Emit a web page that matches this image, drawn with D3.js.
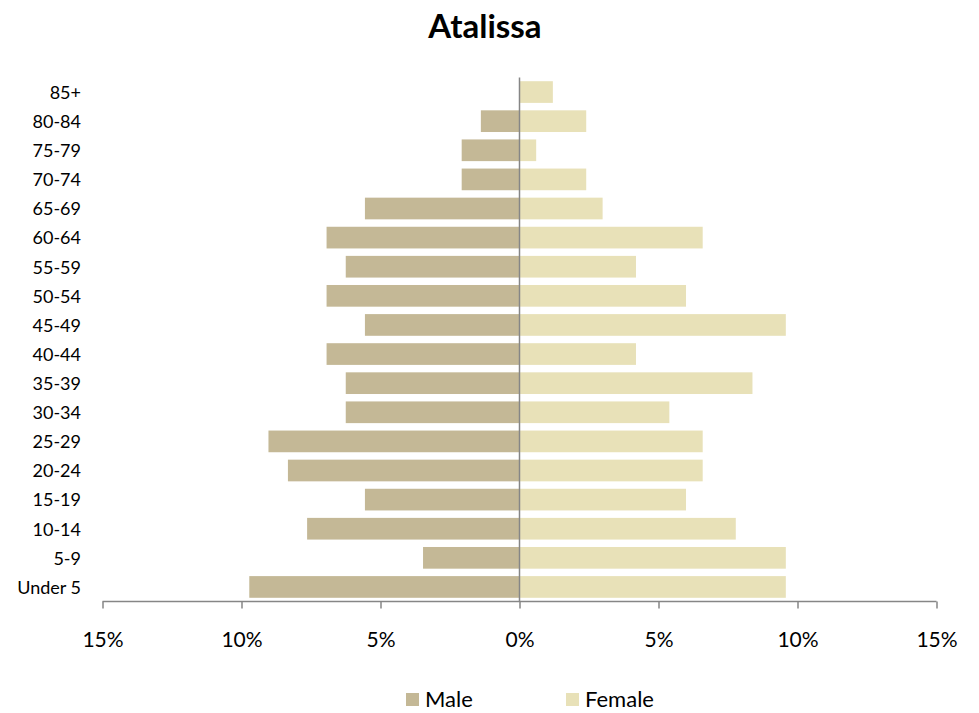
<!DOCTYPE html>
<html>
<head>
<meta charset="utf-8">
<script src="https://cdn.jsdelivr.net/npm/d3@7"></script>
<style>
  html, body { margin: 0; padding: 0; background: #fff; }
  svg { display: block; font-family: Lato, "Open Sans", sans-serif; }
</style>
</head>
<body>
<svg id="chart" width="979" height="713"></svg>
<script>
const categories = ["85+","80-84","75-79","70-74","65-69","60-64","55-59","50-54","45-49","40-44","35-39","30-34","25-29","20-24","15-19","10-14","5-9","Under 5"];
const male   = [0, 1.39, 2.08, 2.08, 5.56, 6.94, 6.25, 6.94, 5.56, 6.94, 6.25, 6.25, 9.03, 8.33, 5.56, 7.64, 3.47, 9.72];
const female = [1.20, 2.40, 0.60, 2.40, 2.99, 6.59, 4.19, 5.99, 9.58, 4.19, 8.38, 5.39, 6.59, 6.59, 5.99, 7.78, 9.58, 9.58];
const tickValues = [-15, -10, -5, 0, 5, 10, 15];
const tickLabels = ["15%", "10%", "5%", "0%", "5%", "10%", "15%"];
const seriesNames = ["Male", "Female"];
const colors = { Male: "#C4B896", Female: "#E8E1B8" };

const svg = d3.select("#chart");
const pLeft = 102.5, pRight = 936.5, pTop = 77.5, pBottom = 601.5;

const x = d3.scaleLinear().domain([-15, 15]).range([pLeft, pRight]);
const y = d3.scaleBand().domain(categories).range([pTop, pBottom]).paddingInner(0.255).paddingOuter(0.1275);

// Title
svg.append("text").attr("x", 485).attr("y", 38).attr("text-anchor", "middle")
  .attr("font-size", 33).attr("font-weight", "bold").attr("fill", "#000").text("Atalissa");

// Bars
const rows = categories.map((c, i) => ({ c, m: male[i], f: female[i] }));
svg.append("g").selectAll("rect").data(rows).join("rect")
  .attr("x", d => x(-d.m)).attr("width", d => x(0) - x(-d.m))
  .attr("y", d => y(d.c)).attr("height", y.bandwidth())
  .attr("fill", colors.Male);
svg.append("g").selectAll("rect").data(rows).join("rect")
  .attr("x", x(0)).attr("width", d => x(d.f) - x(0))
  .attr("y", d => y(d.c)).attr("height", y.bandwidth())
  .attr("fill", colors.Female);

// Category labels
svg.append("g").selectAll("text").data(categories).join("text")
  .attr("x", 81).attr("y", d => y(d) + y.bandwidth() / 2 + 0.5)
  .attr("dy", "0.35em").attr("text-anchor", "end")
  .attr("font-size", 18).attr("fill", "#000").text(d => d);

// Vertical zero line
svg.append("line").attr("x1", x(0)).attr("x2", x(0)).attr("y1", pTop).attr("y2", pBottom)
  .attr("stroke", "#868686").attr("stroke-width", 1.5);

// X axis
const xAxis = d3.axisBottom(x).tickValues(tickValues).tickSize(7).tickPadding(24)
  .tickFormat((d, i) => tickLabels[i]);
const gx = svg.append("g").attr("transform", `translate(0,${pBottom})`).call(xAxis);
gx.select(".domain").attr("stroke", "#868686").attr("stroke-width", 1.5)
  .attr("d", `M${pLeft},0H${pRight}`);
gx.selectAll(".tick line").attr("stroke", "#868686").attr("stroke-width", 1.5);
gx.selectAll(".tick text").attr("font-size", 21).attr("fill", "#000")
  .attr("font-family", "Lato, 'Open Sans', sans-serif");

// Legend
const legendX = [406, 566];
const lg = svg.append("g");
seriesNames.forEach((s, i) => {
  lg.append("rect").attr("x", legendX[i]).attr("y", 693).attr("width", 13).attr("height", 13)
    .attr("fill", colors[s]);
  lg.append("text").attr("x", legendX[i] + 19).attr("y", 706.5)
    .attr("font-size", 22).attr("fill", "#000").text(s);
});
</script>
</body>
</html>
